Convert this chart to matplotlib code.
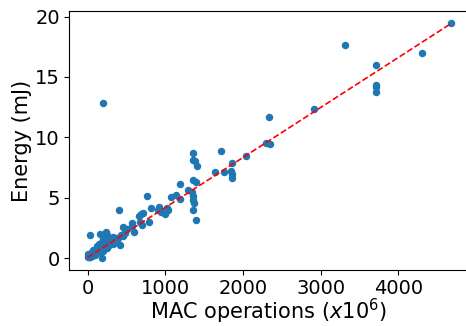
import numpy as np
import matplotlib
matplotlib.use('Agg')
import matplotlib.pyplot as plt

# MAC operations (x10^6) and measured energy (mJ)
mac = [4675, 3310, 4309, 3713, 3713, 3713, 3713, 2918, 2335, 2296, 2352, 1717, 197,
       1360, 1360, 1382, 1403, 1854, 2035, 1639, 1755, 1842, 1854, 1858, 1360, 1391,
       1189, 1296, 1339, 1360, 1360, 1365, 1360, 1395, 1189, 760, 1137, 1069, 407,
       683, 661, 708, 811, 922, 910, 940, 1038, 1025, 1000, 793, 673, 695, 574,
       459, 566, 480, 510, 596, 480, 236, 252, 245, 330, 373, 265, 30, 158, 201,
       373, 416, 180, 72, 116, 137, 0,
       10, 20, 40, 50, 60, 80, 90, 100, 110, 120, 130, 140, 150, 160, 170, 180,
       190, 200, 210, 220, 230, 260, 280, 300, 320, 340, 360, 390, 430, 450,
       60, 30, 15, 100, 145, 250, 200]
energy = [19.5, 17.65, 17.0, 15.95, 14.33, 14.14, 13.75, 12.37, 11.7, 9.5, 9.44, 8.85, 12.8,
          8.67, 8.12, 8.04, 7.65, 7.9, 8.48, 7.1, 7.15, 7.2, 6.93, 6.6, 6.46, 6.27,
          6.1, 5.63, 5.49, 5.14, 4.8, 4.53, 3.95, 3.15, 4.86, 5.14, 5.2, 5.05, 3.98,
          3.62, 3.48, 3.75, 4.18, 4.22, 3.98, 3.84, 3.98, 4.12, 3.67, 3.0, 3.0, 2.73, 2.87,
          2.57, 2.62, 2.32, 2.38, 2.13, 2.05, 2.18, 1.9, 1.63, 1.71, 1.63, 1.35, 1.92, 2.0, 1.6,
          1.33, 1.05, 0.0, 0.64, 0.77, 0.91, 0.08,
          0.3, 0.2, 0.35, 0.5, 0.4, 0.55, 0.3, 0.6, 0.45, 1.0, 0.7, 1.2, 0.85, 1.1, 0.6, 1.3,
          0.9, 1.0, 1.2, 0.95, 1.1, 1.0, 1.15, 1.3, 1.2, 1.45, 1.5, 1.7, 1.9, 1.8,
          0.15, 0.1, 0.05, 0.25, 0.5, 0.8, 0.55]

# linear fit (slope, intercept)
fit = [0.00414, 0.05]

fig = plt.figure(figsize=(4.66, 3.26), dpi=100)
ax = fig.add_axes([69 / 466, 56 / 326, 399 / 466, 259 / 326])

ax.scatter(mac, energy, s=19, color='#1f77b4', zorder=2)
xs = np.array([min(mac), max(mac)])
ax.plot(xs, fit[0] * xs + fit[1], 'r--', linewidth=1.2, zorder=3)

ax.set_xlim(-241, 4897)
ax.set_ylim(-0.99, 20.46)
ax.set_xticks([0, 1000, 2000, 3000, 4000])
ax.set_yticks([0, 5, 10, 15, 20])
ax.tick_params(labelsize=14, pad=3)
ax.set_xlabel('MAC operations ($x10^6$)', fontsize=15, labelpad=-1)
ax.set_ylabel('Energy (mJ)', fontsize=15, labelpad=2)

fig.savefig('out.png', dpi=100)
